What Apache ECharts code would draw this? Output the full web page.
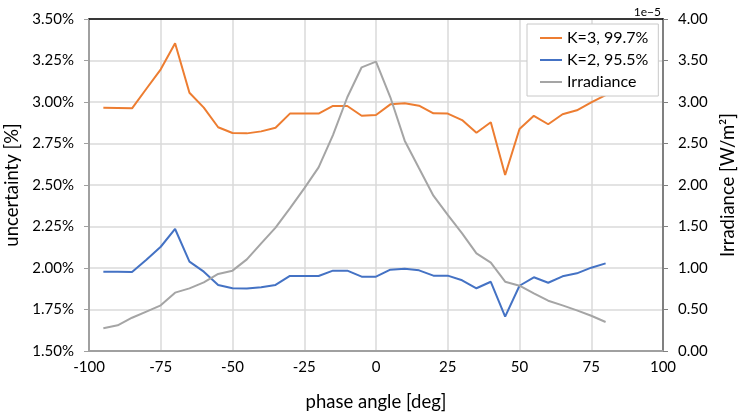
<!DOCTYPE html>
<html>
<head>
<meta charset="utf-8">
<script src="https://cdn.jsdelivr.net/npm/echarts@6/dist/echarts.min.js"></script>
<style>
html,body{margin:0;padding:0;background:#fff;}
#chart{width:738px;height:416px;}
</style>
</head>
<body>
<div id="chart"></div>
<script>
// phase angle [deg]
const angles = [-95,-90,-85,-80,-75,-70,-65,-60,-55,-50,-45,-40,-35,-30,-25,-20,-15,-10,-5,0,5,10,15,20,25,30,35,40,45,50,55,60,65,70,75,80];
// uncertainty K=3 [%]
const k3 = [2.966,2.964,2.962,3.08,3.197,3.354,3.056,2.966,2.848,2.813,2.811,2.823,2.845,2.930,2.930,2.930,2.976,2.976,2.917,2.922,2.986,2.992,2.978,2.932,2.930,2.891,2.815,2.878,2.560,2.837,2.917,2.866,2.926,2.950,2.998,3.042];
// uncertainty K=2 [%]
const k2 = [1.978,1.977,1.976,2.05,2.128,2.235,2.038,1.978,1.898,1.878,1.876,1.884,1.898,1.952,1.952,1.952,1.984,1.984,1.948,1.948,1.990,1.996,1.986,1.954,1.954,1.926,1.878,1.917,1.707,1.893,1.944,1.911,1.950,1.968,2.002,2.028];
// irradiance [W/m^2], in units of 1e-5
const irradiance = [0.273,0.309,0.401,0.474,0.550,0.703,0.755,0.827,0.928,0.968,1.104,1.297,1.486,1.719,1.96,2.213,2.602,3.057,3.418,3.486,3.057,2.534,2.201,1.871,1.640,1.418,1.177,1.064,0.835,0.787,0.695,0.606,0.550,0.490,0.425,0.349];
const seriesNames = ['K=3, 99.7%','K=2, 95.5%','Irradiance'];

const FONT = 'Lato';
const pair = arr => angles.map((a,i)=>[a,arr[i]]);

const chart = echarts.init(document.getElementById('chart'), null, {renderer:'canvas'});
chart.setOption({
  animation:false,
  backgroundColor:'#fff',
  textStyle:{fontFamily:FONT},
  grid:{left:89,right:75,top:19,bottom:65,containLabel:false,outerBoundsMode:'none'},
  legend:{
    orient:'vertical', left:527, top:24,
    padding:[5,10,5,13], itemGap:4, itemWidth:22, itemHeight:2,
    icon:'rect',
    backgroundColor:'#fff', borderColor:'#c8c8c8', borderWidth:1, borderRadius:0,
    textStyle:{fontFamily:FONT,fontSize:16,color:'#000',lineHeight:18},
    data:seriesNames
  },
  graphic:[{type:'text', right:77, top:6, style:{text:'1e\u22125', font:'12px Lato', fill:'#000'}}],
  xAxis:[{
    type:'value', min:-100, max:100, interval:25,
    name:'phase angle [deg]', nameLocation:'middle', nameGap:42,
    nameTextStyle:{fontFamily:FONT,fontSize:18.5,color:'#000'},
    axisLine:{show:true,onZero:false,lineStyle:{color:'#a0a0a0',width:2}},
    axisTick:{show:false},
    axisLabel:{fontFamily:FONT,fontSize:15,color:'#000',margin:9},
    splitLine:{show:true,lineStyle:{color:'#dadada',width:1.5}}
  },{
    type:'value', position:'top', min:-100, max:100, interval:25,
    axisLine:{show:true,onZero:false,lineStyle:{color:'#000',width:1.5}},
    axisTick:{show:false}, axisLabel:{show:false}, splitLine:{show:false}
  }],
  yAxis:[{
    type:'value', min:1.5, max:3.5, interval:0.25, position:'left',
    name:'uncertainty [%]', nameLocation:'middle', nameGap:61,
    nameTextStyle:{fontFamily:FONT,fontSize:18.5,color:'#000'},
    axisLine:{show:true,onZero:false,lineStyle:{color:'#a0a0a0',width:2}},
    axisTick:{show:true,length:5,lineStyle:{color:'#a0a0a0',width:1}},
    axisLabel:{fontFamily:FONT,fontSize:15,color:'#000',margin:15,formatter:v=>v.toFixed(2)+'%'},
    splitLine:{show:true,lineStyle:{color:'#dadada',width:1.5}}
  },{
    type:'value', min:0, max:4, interval:0.5, position:'right',
    name:'Irradiance [W/m\u00b2]', nameLocation:'middle', nameGap:55, nameRotate:90,
    nameTextStyle:{fontFamily:FONT,fontSize:18.5,color:'#000'},
    axisLine:{show:true,onZero:false,lineStyle:{color:'#808080',width:2}},
    axisTick:{show:true,length:5,lineStyle:{color:'#808080',width:1}},
    axisLabel:{fontFamily:FONT,fontSize:15,color:'#000',margin:15,formatter:v=>v.toFixed(2)},
    splitLine:{show:false}
  }],
  series:[
    {name:seriesNames[0],type:'line',yAxisIndex:0,data:pair(k3),symbol:'none',lineStyle:{color:'#ED7D31',width:2},itemStyle:{color:'#ED7D31'}},
    {name:seriesNames[1],type:'line',yAxisIndex:0,data:pair(k2),symbol:'none',lineStyle:{color:'#4472C4',width:2},itemStyle:{color:'#4472C4'}},
    {name:seriesNames[2],type:'line',yAxisIndex:1,data:pair(irradiance),symbol:'none',lineStyle:{color:'#A5A5A5',width:2},itemStyle:{color:'#A5A5A5'}}
  ]
});
</script>
</body>
</html>
